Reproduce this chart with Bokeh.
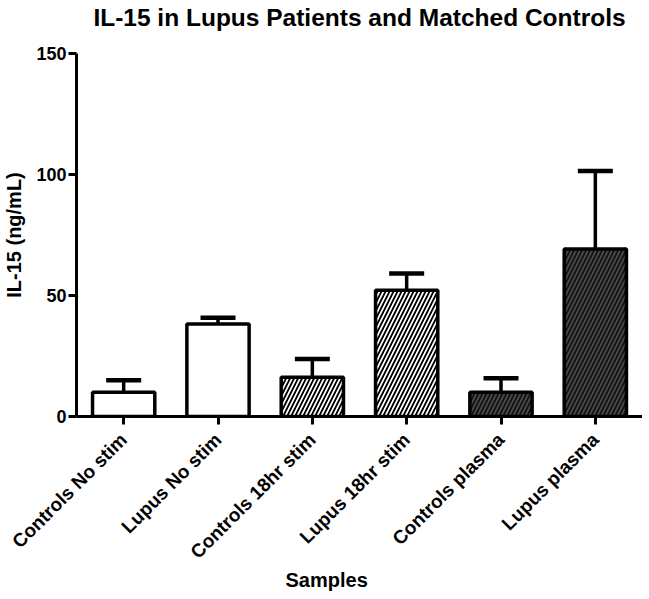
from math import pi
from bokeh.plotting import figure
from bokeh.models import (ColumnDataSource, FactorRange, Range1d, FixedTicker,
                          Whisker, TeeHead, Title)
from bokeh.embed import file_html
from bokeh.resources import INLINE

# ---- data ----
categories = ["Controls No stim", "Lupus No stim", "Controls 18hr stim",
              "Lupus 18hr stim", "Controls plasma", "Lupus plasma"]
means = [10.0, 38.2, 16.2, 52.2, 10.0, 69.2]
sems = [5.0, 2.6, 7.6, 6.9, 5.8, 32.2]
y_ticks = [0, 50, 100, 150]

# ---- styles ----
fill_colors = ["white", "white", "white", "white", "#4a4a4a", "#4a4a4a"]
hatch_patterns = [" ", " ", "/", "/", "/", "/"]
hatch_colors = ["black", "black", "black", "black", "#111111", "#111111"]

FONT = "Liberation Sans"

source = ColumnDataSource(data=dict(
    x=categories,
    top=means,
    upper=[m + s for m, s in zip(means, sems)],
    fill=fill_colors,
    hatch=hatch_patterns,
    hcolor=hatch_colors,
))

p = figure(
    title=None,
    x_range=FactorRange(*categories),
    y_range=Range1d(0, 150),
    width=642, height=591,
    output_backend="svg", toolbar_location=None,
    min_border_left=74, min_border_right=0,
    min_border_top=53, min_border_bottom=175,
)

p.vbar(x="x", top="top", bottom=0, width=0.66, source=source,
       fill_color="fill", line_color="black", line_width=3.5,
       hatch_pattern="hatch", hatch_color="hcolor",
       hatch_scale=8, hatch_weight=1.8)

whisk = Whisker(base="x", lower="top", upper="upper", source=source,
                dimension="height", line_width=3.5, line_color="black",
                upper_head=TeeHead(size=35, line_width=4.5, line_color="black"),
                lower_head=None)
p.add_layout(whisk)

# title (a small spacer sits between it and the plot area)
spacer = Title(text=" ", text_font_size="2px", standoff=18)
p.add_layout(spacer, "above")
main_title = Title(text="IL-15 in Lupus Patients and Matched Controls",
                   align="center", vertical_align="top", standoff=-2,
                   text_font=FONT, text_font_size="24.5px",
                   text_font_style="bold", text_color="black")
p.add_layout(main_title, "above")

# axes
p.grid.visible = False
p.outline_line_color = None
p.background_fill_color = "white"
p.border_fill_color = "white"

for ax in (p.xaxis, p.yaxis):
    ax.axis_line_width = 3
    ax.axis_line_color = "black"
    ax.major_tick_line_width = 3
    ax.major_tick_line_color = "black"
    ax.major_tick_in = 0
    ax.major_tick_out = 8
    ax.minor_tick_line_color = None
    ax.major_label_text_font = FONT
    ax.major_label_text_font_style = "bold"
    ax.major_label_text_color = "black"

p.yaxis.ticker = FixedTicker(ticks=y_ticks)
p.yaxis.major_label_text_font_size = "18px"
p.yaxis.major_label_standoff = 2
p.yaxis.axis_label = "IL-15 (ng/mL)"
p.yaxis.axis_label_text_font = FONT
p.yaxis.axis_label_text_font_style = "bold"
p.yaxis.axis_label_text_font_size = "20px"
p.yaxis.axis_label_text_color = "black"
p.yaxis.axis_label_standoff = 8

p.xaxis.major_label_text_font_size = "19px"
p.xaxis.major_label_orientation = pi / 4
p.xaxis.major_label_standoff = 12

# x-axis title, placed left of centre as in the reference
samples = Title(text="Samples", align="left", offset=209, vertical_align="top",
                standoff=-10, text_font=FONT, text_font_style="bold",
                text_font_size="20px", text_color="black")
p.add_layout(samples, "below")

open("out.html", "w").write(file_html(p, INLINE))
